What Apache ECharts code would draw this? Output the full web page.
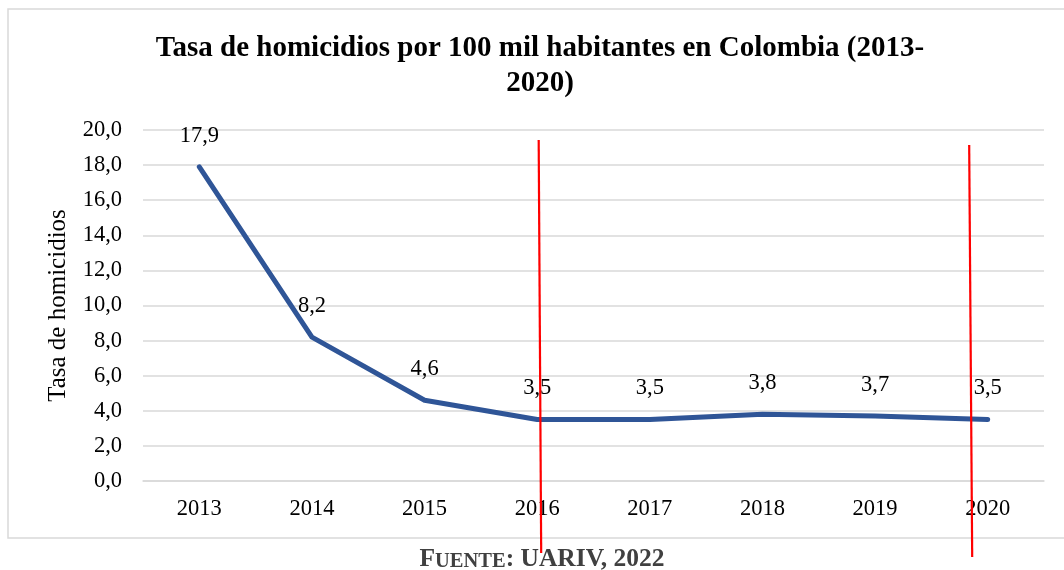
<!DOCTYPE html>
<html>
<head>
<meta charset="utf-8">
<script src="https://cdn.jsdelivr.net/npm/echarts@6/dist/echarts.min.js"></script>
<style>
html,body{margin:0;padding:0;background:#fff;}
#chart{width:1064px;height:570px;}
</style>
</head>
<body>
<div id="chart"></div>
<script>
// ---- data ----
const categories = ['2013', '2014', '2015', '2016', '2017', '2018', '2019', '2020'];
const rates = [17.9, 8.2, 4.6, 3.5, 3.5, 3.8, 3.7, 3.5];
const titleLines = ['Tasa de homicidios por 100 mil habitantes en Colombia (2013-', '2020)'];
const yAxisName = 'Tasa de homicidios';
const markedYears = ['2016', '2020'];
const sourceNote = ['F', 'UENTE', ': UARIV, 2022'];

const serif = '"Liberation Serif", "Times New Roman", serif';
const fmt = v => Number(v).toFixed(1).replace('.', ',');

const chart = echarts.init(document.getElementById('chart'), null, {renderer: 'canvas'});
const option = {
  backgroundColor: '#ffffff',
  animation: false,
  title: [{
    text: titleLines.join('\n'),
    left: 540,
    top: 31,
    textAlign: 'center',
    padding: 0,
    textStyle: {fontFamily: serif, fontWeight: 'bold', fontSize: 29, lineHeight: 35, color: '#000'}
  }, {
    text: '{a|' + sourceNote[0] + '}{b|' + sourceNote[1] + '}{a|' + sourceNote[2] + '}',
    left: 542,
    top: 546,
    textAlign: 'center',
    padding: 0,
    textStyle: {
      rich: {
        a: {fontFamily: serif, fontWeight: 'bold', fontSize: 25.5, color: '#404040', verticalAlign: 'bottom'},
        b: {fontFamily: serif, fontWeight: 'bold', fontSize: 20.5, color: '#404040', verticalAlign: 'bottom'}
      }
    }
  }],
  grid: {left: 143, right: 20, top: 130, bottom: 89, containLabel: false},
  xAxis: {
    type: 'category',
    data: categories,
    boundaryGap: true,
    axisLine: {show: true, lineStyle: {color: '#d9d9d9', width: 1.5}},
    axisTick: {show: false},
    axisLabel: {fontFamily: serif, fontSize: 22.5, color: '#000', margin: 17}
  },
  yAxis: {
    type: 'value',
    min: 0,
    max: 20,
    interval: 2,
    name: yAxisName,
    nameLocation: 'middle',
    nameGap: 72,
    nameRotate: 90,
    nameTextStyle: {fontFamily: serif, fontSize: 25, color: '#000'},
    axisLine: {show: false},
    axisTick: {show: false},
    axisLabel: {fontFamily: serif, fontSize: 22.5, color: '#000', margin: 21, formatter: fmt},
    splitLine: {lineStyle: {color: '#d9d9d9', width: 1.5}}
  },
  series: [{
    type: 'line',
    data: rates,
    symbol: 'circle',
    symbolSize: 1,
    showSymbol: true,
    itemStyle: {color: 'rgba(0,0,0,0)'},
    lineStyle: {color: '#2F5597', width: 5, cap: 'round', join: 'round'},
    label: {
      show: true,
      position: 'top',
      distance: 19,
      fontFamily: serif,
      fontSize: 22.5,
      color: '#000',
      formatter: p => fmt(p.value)
    },
    labelLayout: {hideOverlap: false},
    z: 3
  }]
};
chart.setOption(option);

// frame + hand-drawn red marker lines, positioned from the category axis
const markerOffsets = [
  {top: [1.5, 140], bottom: [4, 553]},
  {top: [-18.5, 145], bottom: [-15.5, 557]}
];
const graphics = [{
  type: 'rect',
  shape: {x: 8, y: 9, width: 1200, height: 529},
  style: {fill: null, stroke: '#d9d9d9', lineWidth: 1.5},
  silent: true,
  z: 0
}];
markedYears.forEach((yr, i) => {
  const px = chart.convertToPixel({xAxisIndex: 0}, yr);
  const o = markerOffsets[i];
  graphics.push({
    type: 'line',
    shape: {x1: px + o.top[0], y1: o.top[1], x2: px + o.bottom[0], y2: o.bottom[1]},
    style: {stroke: '#ff0000', lineWidth: 2.2},
    silent: true,
    z: 100
  });
});
chart.setOption({graphic: graphics});
</script>
</body>
</html>
